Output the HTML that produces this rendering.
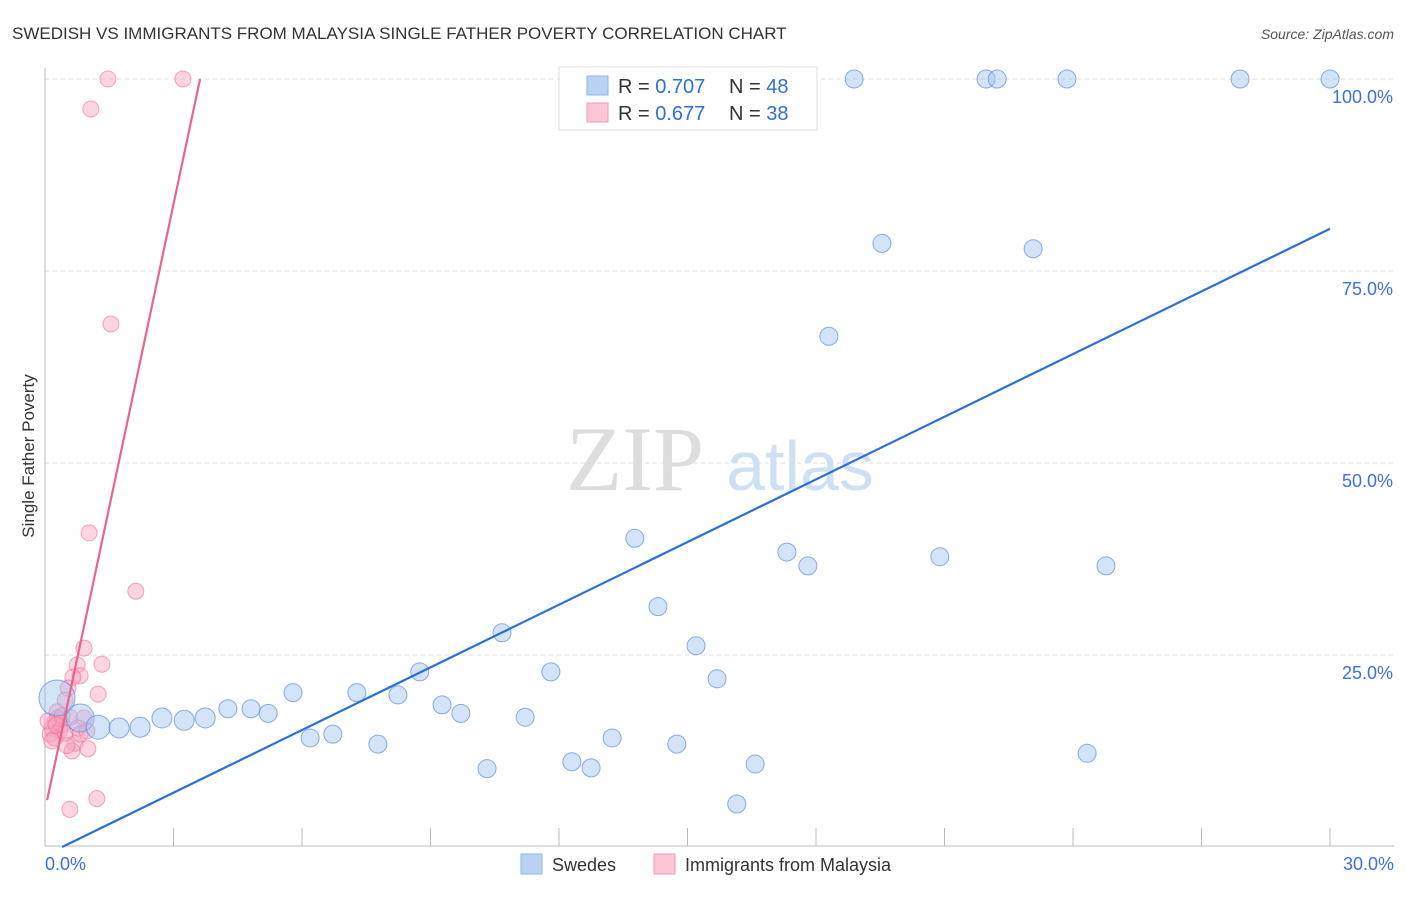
<!DOCTYPE html>
<html><head><meta charset="utf-8"><style>
body{margin:0;background:#fff;font-family:"Liberation Sans",sans-serif;}
</style></head><body>
<svg id="chart" width="1406" height="892" xmlns="http://www.w3.org/2000/svg" font-family="Liberation Sans, sans-serif">
<text x="12" y="39" font-size="17" fill="#333">SWEDISH VS IMMIGRANTS FROM MALAYSIA SINGLE FATHER POVERTY CORRELATION CHART</text>
<text x="1394" y="39" font-size="14" fill="#555" text-anchor="end" font-style="italic">Source: ZipAtlas.com</text>
<text transform="translate(34,456) rotate(-90)" font-size="17" fill="#333" text-anchor="middle">Single Father Poverty</text>
<g><text x="635" y="490" font-size="92" fill="#ddd" style="font-family:'Liberation Serif',serif" text-anchor="middle">ZIP</text><text x="800" y="490" font-size="70" fill="#cfe0f5" text-anchor="middle">atlas</text></g>
<g id="grid"></g>
<g id="axes"></g>
<g id="pts"></g>
<g id="lines"></g>
<g>
<rect x="559" y="67" width="258" height="63" fill="#fff" stroke="#ddd"/>
<rect x="587" y="76" width="21" height="19" fill="#b9d3f5" stroke="#8fb4e8"/>
<text x="618" y="93" font-size="20" fill="#333">R = <tspan fill="#2f6fd6">0.707</tspan></text>
<text x="729" y="93" font-size="20" fill="#333">N = <tspan fill="#2f6fd6">48</tspan></text>
<rect x="587" y="103" width="21" height="19" fill="#fcc6d6" stroke="#f29ab6"/>
<text x="618" y="120" font-size="20" fill="#333">R = <tspan fill="#2f6fd6">0.677</tspan></text>
<text x="729" y="120" font-size="20" fill="#333">N = <tspan fill="#2f6fd6">38</tspan></text>
</g>
<g>
<rect x="521" y="854" width="21" height="20" fill="#b9d3f5" stroke="#8fb4e8"/>
<text x="552" y="871" font-size="18" fill="#333">Swedes</text>
<rect x="654" y="854" width="21" height="20" fill="#fcc6d6" stroke="#f29ab6"/>
<text x="685" y="871" font-size="18" fill="#333">Immigrants from Malaysia</text>
</g>
</svg>
<script>
const blueX=[0.28,0.82,1.24,1.73,2.22,2.73,3.25,3.74,4.27,4.81,5.21,5.79,6.19,6.72,7.28,7.77,8.24,8.75,9.27,9.71,10.32,10.67,11.21,11.81,12.30,12.75,13.24,13.77,14.31,14.75,15.20,15.69,16.15,16.58,17.32,17.81,18.30,18.89,19.54,20.89,21.97,22.23,23.07,23.86,24.33,24.77,27.90,30.0];
const blueY=[19.4,16.8,15.6,15.5,15.6,16.8,16.5,16.8,18.0,18.0,17.4,20.1,14.2,14.7,20.1,13.4,19.8,22.8,18.5,17.4,10.2,27.9,16.9,22.8,11.1,10.3,14.2,40.2,31.3,13.4,26.2,21.9,5.6,10.8,38.4,36.6,66.5,100,78.6,37.8,100,100,77.9,100,12.2,36.6,100,100];
const blueR=[18,14,12,10,10,10,10,10,9,9,9,9,9,9,9,9,9,9,9,9,9,9,9,9,9,9,9,9,9,9,9,9,9,9,9,9,9,9,9,9,9,9,9,9,9,9,9,9];
const pinkX=[1.47,3.22,1.07,1.54,1.03,2.12,0.91,1.33,0.75,0.82,0.65,1.24,0.54,0.47,0.28,0.58,0.91,0.23,0.40,0.16,0.35,0.12,0.70,1.00,0.63,1.21,0.58,0.23,0.47,0.77,0.30,0.07,0.40,0.82,0.16,0.51,0.98,0.26];
const pinkY=[100,100,96.1,68.1,40.9,33.3,25.9,23.8,23.7,22.3,22.1,19.9,20.7,19.1,17.6,16.9,16.8,16.3,15.9,15.5,15.2,14.7,13.5,12.8,12.5,6.3,4.9,14.2,14.8,15.5,16.8,16.4,17.1,14.7,13.8,13.2,15.1,15.9];
const blueLine=[[0.4,0],[30,80.5]];
const pinkLine=[[0.05,6.1],[3.62,100]];
const xTicks=[0,3,6,9,12,15,18,21,24,27,30];
const yTicks=[25,50,75,100];
const X=v=>45+v/30*1285, Y=v=>847-v*7.68;
const NS="http://www.w3.org/2000/svg";
function mk(p,t,a){const e=document.createElementNS(NS,t);for(const k in a)e.setAttribute(k,a[k]);p.appendChild(e);return e;}
const grid=document.getElementById('grid'),axes=document.getElementById('axes'),pts=document.getElementById('pts'),lines=document.getElementById('lines');
yTicks.forEach(v=>{
 const l=mk(grid,'line',{x1:45,x2:1394,y1:Y(v),y2:Y(v),stroke:'#ddd','stroke-dasharray':'4,4'});
 
 
 const t=mk(axes,'text',{x:1393,y:Y(v)+24,'font-size':18,fill:'#3a72d6','text-anchor':'end'});
 t.textContent=v.toFixed(1)+'%';
 
 
});
mk(axes,'line',{x1:45,x2:45,y1:68,y2:846,stroke:'#bbb'});
mk(axes,'line',{x1:45,x2:1394,y1:846,y2:846,stroke:'#bbb'});
xTicks.forEach(v=>{
 const l=mk(axes,'line',{x1:X(v),x2:X(v),y1:828,y2:846,stroke:'#bbb'});
 
 
});
[[0,'start',45],[30,'end',1394]].forEach(([v,a,x])=>{
 const t=mk(axes,'text',{x:x,y:870,'font-size':18,fill:'#3a72d6','text-anchor':a});
 t.textContent=v.toFixed(1)+'%';
 
 
});
pinkX.forEach((x,i)=>{
 const c=mk(pts,'circle',{cx:X(x),cy:Y(pinkY[i]),r:8,fill:'rgba(248,160,190,0.45)',stroke:'rgba(236,110,150,0.6)'});
 
 
});
blueX.forEach((x,i)=>{
 const c=mk(pts,'circle',{cx:X(x),cy:Y(blueY[i]),r:blueR[i],fill:'rgba(160,195,240,0.45)',stroke:'rgba(90,140,220,0.7)'});
 
 
});
const bl=mk(lines,'line',{x1:X(blueLine[0][0]),y1:Y(blueLine[0][1]),x2:X(blueLine[1][0]),y2:Y(blueLine[1][1]),stroke:'#2a6fd8','stroke-width':2.2});


const pl=mk(lines,'line',{x1:X(pinkLine[0][0]),y1:Y(pinkLine[0][1]),x2:X(pinkLine[1][0]),y2:Y(pinkLine[1][1]),stroke:'#e8658f','stroke-width':2.2});


</script>
</body></html>
